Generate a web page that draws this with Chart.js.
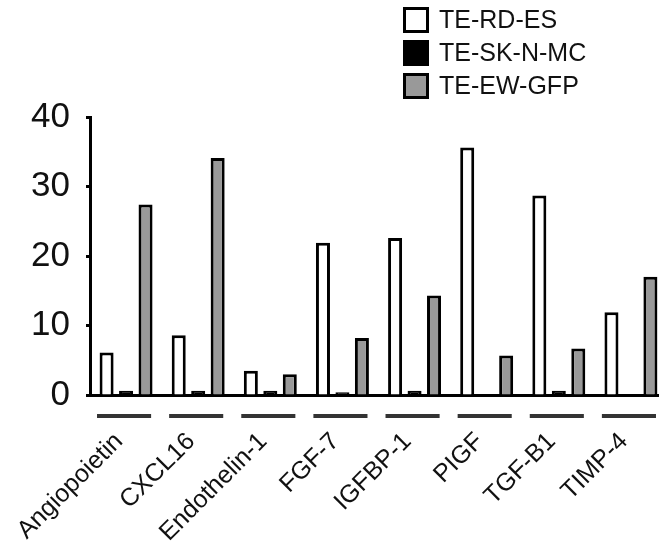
<!DOCTYPE html>
<html>
<head>
<meta charset="utf-8">
<script src="https://cdn.jsdelivr.net/npm/chart.js@4/dist/chart.umd.min.js"></script>
<style>
  html, body { margin: 0; padding: 0; background: #ffffff; overflow: hidden; }
  canvas { display: block; }
</style>
</head>
<body>
<canvas id="chart" width="667" height="554"></canvas>
<script>
// Secreted factor levels per cell line
const categories = ['Angiopoietin', 'CXCL16', 'Endothelin-1', 'FGF-7', 'IGFBP-1', 'PIGF', 'TGF-B1', 'TIMP-4'];
const seriesNames = ['TE-RD-ES', 'TE-SK-N-MC', 'TE-EW-GFP'];
const teRdEs  = [6.1, 8.6, 3.5, 21.9, 22.6, 35.6, 28.7, 11.9];
const teSkNMc = [0.6, 0.6, 0.6, 0.4, 0.6, 0, 0.6, 0];
const teEwGfp = [27.4, 34.1, 3.0, 8.2, 14.3, 5.7, 6.7, 17.0];
const yTicks  = [0, 10, 20, 30, 40];

const fills = ['#ffffff', '#000000', '#999999'];
const FONT = '"Liberation Sans", Arial, Helvetica, sans-serif';

// Short dark rule under each category group
const groupRules = {
  id: 'groupRules',
  afterDraw(chart) {
    const xs = chart.scales.x;
    const ctx = chart.ctx;
    const band = xs.width / categories.length;
    const y = chart.chartArea.bottom + 21;
    ctx.save();
    ctx.strokeStyle = '#333333';
    ctx.lineWidth = 4;
    categories.forEach((_, i) => {
      const cx = xs.getPixelForValue(i) - 2;
      ctx.beginPath();
      ctx.moveTo(cx - band * 0.375, y);
      ctx.lineTo(cx + band * 0.375, y);
      ctx.stroke();
    });
    ctx.restore();
  }
};

// Stacked legend in the upper right
const boxLegend = {
  id: 'boxLegend',
  afterDraw(chart) {
    const ctx = chart.ctx;
    const x = 403, top = 7, pitch = 33, size = 26;
    ctx.save();
    ctx.font = '25px ' + FONT;
    ctx.textBaseline = 'middle';
    ctx.textAlign = 'left';
    chart.data.datasets.forEach((ds, i) => {
      const y = top + i * pitch;
      ctx.fillStyle = ds.backgroundColor;
      ctx.fillRect(x, y, size, size);
      ctx.strokeStyle = '#000000';
      ctx.lineWidth = 3;
      ctx.strokeRect(x + 1.5, y + 1.5, size - 3, size - 3);
      ctx.fillStyle = '#111111';
      ctx.fillText(ds.label, x + 36, y + size / 2 + 1);
    });
    ctx.restore();
  }
};

const seriesValues = [teRdEs, teSkNMc, teEwGfp];

new Chart(document.getElementById('chart'), {
  type: 'bar',
  data: {
    labels: categories,
    datasets: seriesNames.map((name, i) => ({
      label: name,
      data: seriesValues[i],
      backgroundColor: fills[i],
      borderColor: '#000000',
      borderWidth: 3,
      categoryPercentage: 0.81,
      barPercentage: 0.72
    }))
  },
  options: {
    responsive: false,
    devicePixelRatio: 1,
    animation: false,
    layout: { padding: { top: 117, left: 0, right: 0, bottom: 0 } },
    plugins: {
      legend: { display: false },
      tooltip: { enabled: false }
    },
    scales: {
      x: {
        offset: true,
        grid: { display: false, drawTicks: false },
        border: { display: true, color: '#000000', width: 3 },
        ticks: {
          autoSkip: false,
          minRotation: 45,
          maxRotation: 45,
          padding: 32,
          labelOffset: -7,
          color: '#111111',
          font: { family: FONT, size: 25 }
        },
        afterFit(scale) {
          scale.height = 159;
          // rotated labels may overflow to the left; keep the plot flush with the y axis
          scale.paddingLeft = 0;
          scale.paddingRight = 0;
        }
      },
      y: {
        min: 0,
        max: 40,
        afterBuildTicks(scale) { scale.ticks = yTicks.map(v => ({ value: v })); },
        grid: {
          drawOnChartArea: false,
          drawTicks: true,
          tickLength: 4,
          tickWidth: 3,
          tickColor: '#000000'
        },
        border: { display: true, color: '#000000', width: 3 },
        ticks: {
          padding: 16,
          color: '#111111',
          font: { family: FONT, size: 35 }
        },
        afterFit(scale) { scale.width = 90; }
      }
    }
  },
  plugins: [groupRules, boxLegend]
});
</script>
</body>
</html>
